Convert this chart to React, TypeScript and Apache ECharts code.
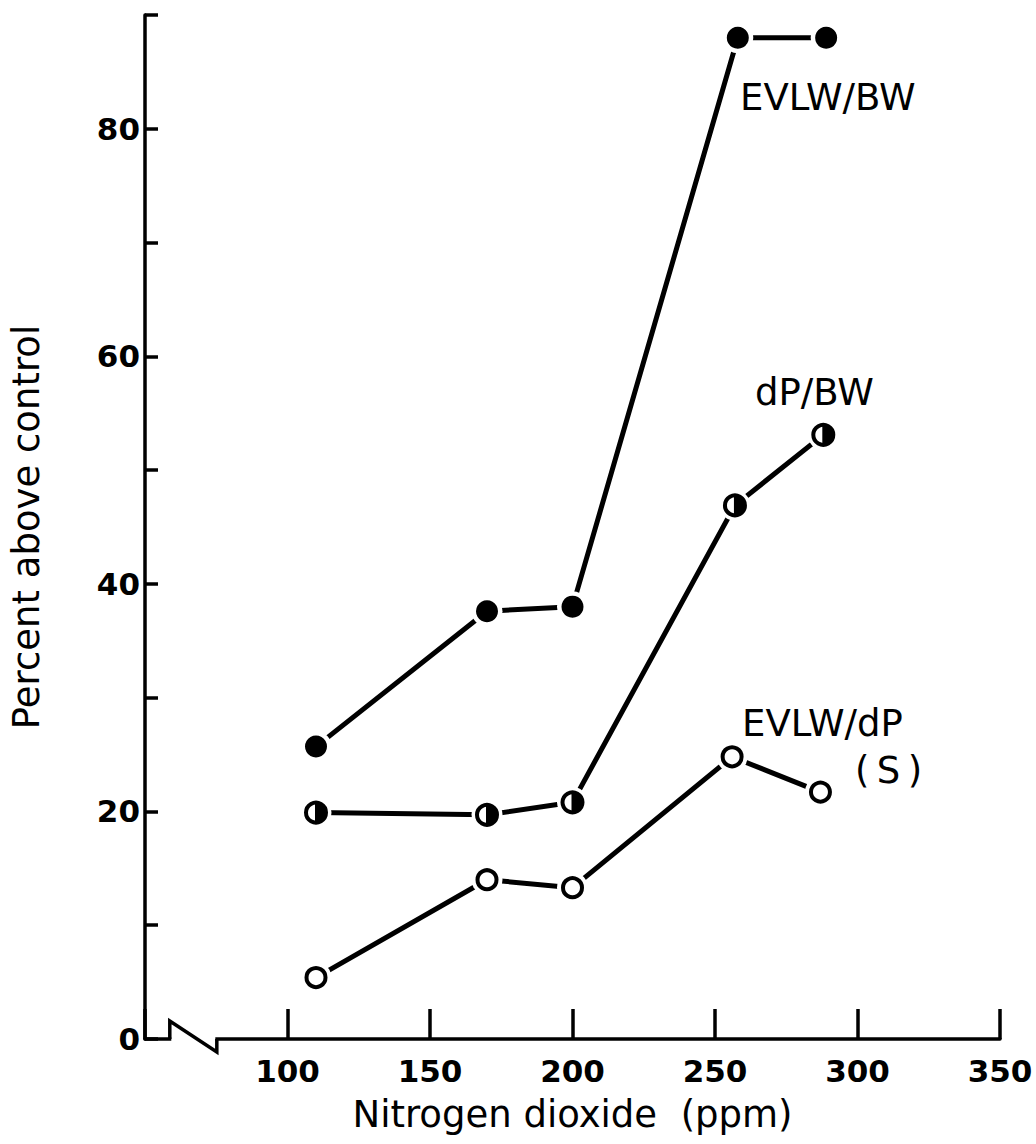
import React, { useEffect, useRef } from "react";
import * as echarts from "echarts";

// Data
const evlwBw: number[][] = [[110, 25.7], [170, 37.6], [200, 38.0], [258, 88.0], [289, 88.0]];
const dpBw: number[][] = [[110, 19.9], [170, 19.7], [200, 20.8], [257, 46.9], [288, 53.1]];
const evlwDp: number[][] = [[110, 5.4], [170, 14.0], [200, 13.3], [256, 24.8], [287, 21.7]];
const hiddenXLabels = [50];
const yLabelStep = 20;
const xAxisName = "Nitrogen dioxide  (ppm)";
const yAxisName = "Percent above control";
const seriesNames = ["EVLW/BW", "dP/BW", "EVLW/dP", "(\u2009S\u2009)"];

const FONT = '"DejaVu Sans", "Liberation Sans", sans-serif';

export default function App() {
  const ref = useRef<HTMLDivElement>(null);
  useEffect(() => {
    if (!ref.current) return;
    const chart = echarts.init(ref.current, null, { renderer: "svg" });

    const lineSeries = (name: string, data: number[][]) => ({
      name,
      type: "line",
      data,
      symbol: "none",
      lineStyle: { color: "#000", width: 5 },
      z: 2,
      silent: true,
    });
    const halo = (data: number[][]) => ({
      type: "scatter",
      data,
      symbol: "circle",
      symbolSize: 31,
      itemStyle: { color: "#fff", opacity: 1 },
      z: 3,
      silent: true,
    });

    const option: any = {
      animation: false,
      backgroundColor: "#fff",
      grid: { left: 143, right: 36, top: 15, bottom: 105 },
      xAxis: {
        type: "value",
        min: 50,
        max: 350,
        interval: 50,
        name: xAxisName,
        nameLocation: "middle",
        nameGap: 57,
        nameTextStyle: { fontFamily: FONT, fontSize: 37, color: "#000" },
        axisLine: { show: true, lineStyle: { color: "#000", width: 3.5 } },
        axisTick: { show: true, inside: true, length: 30, lineStyle: { color: "#000", width: 3.5 } },
        axisLabel: {
          fontFamily: FONT,
          fontSize: 31,
          fontWeight: "bold",
          color: "#000",
          margin: 16,
          formatter: (v: number) => (hiddenXLabels.includes(v) ? "" : String(v)),
        },
        splitLine: { show: false },
      },
      yAxis: {
        type: "value",
        min: 0,
        max: 90,
        interval: 10,
        name: yAxisName,
        nameLocation: "middle",
        nameGap: 100,
        nameTextStyle: { fontFamily: FONT, fontSize: 37, color: "#000" },
        axisLine: { show: true, lineStyle: { color: "#000", width: 3.5 } },
        axisTick: { show: true, inside: true, length: 13, lineStyle: { color: "#000", width: 3.5 } },
        axisLabel: {
          fontFamily: FONT,
          fontSize: 31,
          fontWeight: "bold",
          color: "#000",
          margin: 5,
          formatter: (v: number) => (v % yLabelStep === 0 ? String(v) : ""),
        },
        splitLine: { show: false },
      },
      series: [
        lineSeries(seriesNames[0], evlwBw),
        lineSeries(seriesNames[1], dpBw),
        lineSeries(seriesNames[2], evlwDp),
        halo(evlwBw),
        halo(dpBw),
        halo(evlwDp),
        {
          type: "scatter",
          data: evlwBw,
          symbol: "circle",
          symbolSize: 22,
          itemStyle: { color: "#000", opacity: 1 },
          z: 4,
        },
        {
          type: "scatter",
          data: dpBw,
          symbol: "circle",
          symbolSize: 20,
          itemStyle: { color: "#fff", borderColor: "#000", borderWidth: 4, opacity: 1 },
          z: 4,
        },
        {
          type: "scatter",
          data: dpBw,
          symbol: "path://M0,0 A10,10 0 0 1 0,20 Z",
          symbolSize: [11, 22],
          symbolOffset: [4.5, 0],
          itemStyle: { color: "#000", opacity: 1 },
          z: 5,
        },
        {
          type: "scatter",
          data: evlwDp,
          symbol: "circle",
          symbolSize: 19,
          itemStyle: { color: "#fff", borderColor: "#000", borderWidth: 4, opacity: 1 },
          z: 4,
        },
      ],
    };
    chart.setOption(option);

    // Axis break decoration on the x axis
    const p1 = chart.convertToPixel({ xAxisIndex: 0, yAxisIndex: 0 }, [58.7, 0]) as number[];
    const p2 = chart.convertToPixel({ xAxisIndex: 0, yAxisIndex: 0 }, [75.2, 0]) as number[];
    const yA = p1[1];
    const textStyle = (text: string) => ({
      text,
      fill: "#000",
      fontFamily: FONT,
      fontSize: 37,
      align: "left",
      verticalAlign: "middle",
    });
    chart.setOption({
      graphic: [
        {
          type: "rect",
          shape: { x: p1[0] + 1.5, y: yA - 4, width: p2[0] - p1[0] - 3, height: 8 },
          style: { fill: "#fff" },
          z: 10,
        },
        {
          type: "polyline",
          shape: {
            points: [
              [p1[0], yA],
              [p1[0], yA - 18],
              [p2[0], yA + 13],
              [p2[0], yA],
            ],
          },
          style: { stroke: "#000", lineWidth: 3.5, fill: null, lineJoin: "miter" },
          z: 11,
        },
        { type: "text", x: 740, y: 97, style: textStyle(seriesNames[0]), z: 11 },
        { type: "text", x: 755, y: 392, style: textStyle(seriesNames[1]), z: 11 },
        { type: "text", x: 742, y: 723, style: textStyle(seriesNames[2]), z: 11 },
        { type: "text", x: 855, y: 770, style: textStyle(seriesNames[3]), z: 11 },
      ],
    });

    return () => chart.dispose();
  }, []);
  return <div ref={ref} style={{ width: 1036, height: 1144, position: "absolute", left: 0, top: 0 }} />;
}
